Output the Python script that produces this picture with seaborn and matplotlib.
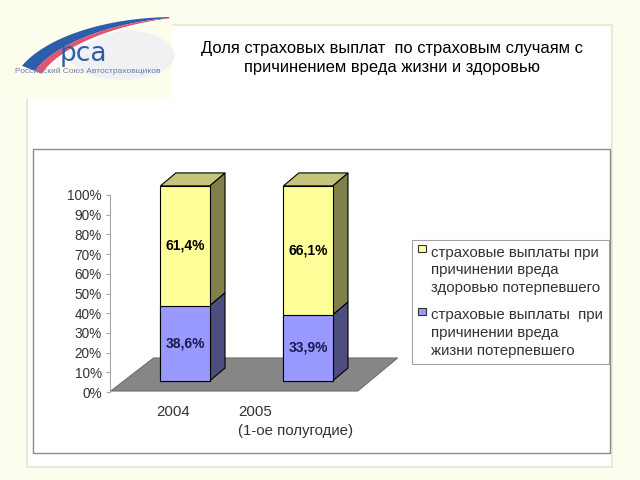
import numpy as np
import pandas as pd
import matplotlib
matplotlib.use("Agg")
import matplotlib.pyplot as plt
from matplotlib.patches import Polygon, Rectangle, Patch, Ellipse
from matplotlib.transforms import ScaledTranslation
from matplotlib.legend_handler import HandlerPatch
import seaborn as sns

# ---------------- data ----------------
categories = ["2004", "2005\n(1-ое полугодие)"]
health_share = [61.4, 66.1]   # yellow: вред здоровью
life_share = [38.6, 33.9]     # blue: вред жизни
y_ticks = [0, 10, 20, 30, 40, 50, 60, 70, 80, 90, 100]
y_tick_labels = [f"{t}%" for t in y_ticks]
legend_labels = [
    "страховые выплаты при\nпричинении вреда\nздоровью потерпевшего",
    "страховые выплаты  при\nпричинении вреда\nжизни потерпевшего",
]
title_text = "Доля страховых выплат  по страховым случаям с\nпричинением вреда жизни и здоровью"

# ---------------- style ----------------
sns.set_theme(style="white")
plt.rcParams["font.family"] = ["Liberation Sans", "DejaVu Sans"]

W, H = 640, 480
fig = plt.figure(figsize=(6.4, 4.8), dpi=100)
fig.patch.set_facecolor("#FEFEF0")

def fbox(x0, y0, x1, y1):
    """pixel box (top-left origin) -> figure rect"""
    return [x0 / W, 1 - y1 / H, (x1 - x0) / W, (y1 - y0) / H]

# background decoration axes in pixel coordinates
bg = fig.add_axes([0, 0, 1, 1], zorder=0)
bg.set_xlim(0, W)
bg.set_ylim(H, 0)
bg.axis("off")
# slide panel
bg.add_patch(Rectangle((27, 25), 585, 442, facecolor="white", edgecolor="#E6E6D2", lw=1.2))
# chart area box
bg.add_patch(Rectangle((33, 149), 577, 304, facecolor="white", edgecolor="#8C8C8C", lw=1.0))
# logo glow
bg.add_patch(Rectangle((0, 0), 172, 98, facecolor="#FDFDEE", edgecolor="none"))
bg.add_patch(Ellipse((122, 55), 105, 50, facecolor="#EFF1F3", edgecolor="none"))

# logo arcs (tapering bands)
cx, cy, rx, ry = 175, 95, 167, 80
th_deg = np.linspace(92, 158, 120)
th = np.radians(th_deg)
f = (th_deg - th_deg.min()) / (th_deg.max() - th_deg.min())

def band(d0, d1, color):
    xo = cx + (rx - d0) * np.cos(th)
    yo = cy - (ry - d0) * np.sin(th)
    xi = cx + (rx - d1) * np.cos(th)
    yi = cy - (ry - d1) * np.sin(th)
    bg.fill(np.r_[xo, xi[::-1]], np.r_[yo, yi[::-1]], color=color, lw=0)

d_a = 2 + 0 * f
d_b = d_a + 1 + 13 * f
d_c = d_b + 0.5 + 7 * f
d_d = d_c + 0.5 + 5 * f
band(d_a, d_b, "#2E5DAA")
band(d_b, d_c, "#E6536E")
band(d_c, d_d, "white")
bg.text(60, 61, "рса", color="#2E5DAA", fontsize=19, ha="left", va="baseline",
        family=["DejaVu Sans"])
bg.text(15, 71.5, "Российский Союз Автостраховщиков", color="#6A7EA8", fontsize=6,
        ha="left", va="center")

# title
bg.text(392, 58, title_text, ha="center", va="center", fontsize=11.9, color="black",
        linespacing=1.35)

# ---------------- bars ----------------
ax = fig.add_axes(fbox(100, 160, 420, 400), zorder=2)
ax.patch.set_alpha(0)
df = pd.DataFrame({"category": categories, "health": health_share, "life": life_share})
df["total"] = df["health"] + df["life"]

yellow, yellow_side, yellow_top = "#FFFF99", "#80804C", "#C4C47A"
blue, blue_side = "#9999FF", "#4D4D80"

sns.barplot(data=df, x="category", y="total", color=yellow, width=0.4, saturation=1,
            edgecolor="black", linewidth=0.8, ax=ax, zorder=3)
sns.barplot(data=df, x="category", y="life", color=blue, width=0.4, saturation=1,
            edgecolor="black", linewidth=0.8, ax=ax, zorder=3)

n = len(categories)
bars_total = list(ax.patches[:n])

ax.set_xlim(-0.691, 1.911)
ax.set_ylim(-9.74, 113.3)
dx, dy = 0.1255, 6.67

# floor
floor = Polygon([(-0.603, -5.13), (1.405, -5.13), (1.729, 11.8), (-0.255, 11.8)],
                closed=True, facecolor="#868686", edgecolor="#6E6E6E", lw=0.8, zorder=1)
ax.add_patch(floor)

for i in range(n):
    p = bars_total[i]
    x0 = p.get_x()
    x1 = x0 + p.get_width()
    life = df["life"][i]
    health = df["health"][i]
    total = df["total"][i]
    # side faces
    ax.add_patch(Polygon([(x1, 0), (x1 + dx, dy), (x1 + dx, life + dy), (x1, life)],
                         facecolor=blue_side, edgecolor="black", lw=0.8, zorder=2.5))
    ax.add_patch(Polygon([(x1, life), (x1 + dx, life + dy), (x1 + dx, total + dy), (x1, total)],
                         facecolor=yellow_side, edgecolor="black", lw=0.8, zorder=2.5))
    # top face
    ax.add_patch(Polygon([(x0, total), (x0 + dx, total + dy), (x1 + dx, total + dy), (x1, total)],
                         facecolor=yellow_top, edgecolor="black", lw=0.8, zorder=2.5))
    xc = (x0 + x1) / 2
    ax.text(xc, life / 2, f"{life:.1f}".replace(".", ",") + "%", ha="center", va="center",
            fontsize=10, fontweight="bold", color="#1A1A50", zorder=5)
    ax.text(xc, life + health / 2, f"{health:.1f}".replace(".", ",") + "%",
            ha="center", va="center", fontsize=10, fontweight="bold", color="black", zorder=5)

for s in ax.spines.values():
    s.set_visible(False)
ax.set_yticks([])
ax.set_xlabel("")
ax.set_ylabel("")
ax.tick_params(axis="x", length=0, pad=3.6, labelsize=10.8, labelcolor="#333333")
offset = ScaledTranslation(-12 / 100, 0, fig.dpi_scale_trans)
for lab in ax.get_xticklabels():
    lab.set_multialignment("left")
    lab.set_verticalalignment("top")
    lab.set_linespacing(1.5)
    lab.set_transform(lab.get_transform() + offset)

# ---------------- value axis ----------------
ax2 = fig.add_axes(fbox(110, 195, 111, 392), zorder=1.5)
ax2.patch.set_alpha(0)
ax2.set_ylim(0, 100)
ax2.set_xlim(0, 1)
for k, s in ax2.spines.items():
    s.set_visible(k == "left")
ax2.spines["left"].set_color("#A6A6A6")
ax2.spines["left"].set_linewidth(0.8)
ax2.set_xticks([])
ax2.set_yticks(y_ticks)
ax2.set_yticklabels(y_tick_labels)
ax2.tick_params(axis="y", direction="out", length=3, width=0.8, color="#A6A6A6",
                labelsize=9.8, labelcolor="#333333", pad=3, left=True)

# ---------------- legend ----------------
class TopSquare(HandlerPatch):
    def __init__(self, shift, **kw):
        super().__init__(**kw)
        self.shift = shift

    def create_artists(self, legend, orig_handle, xdescent, ydescent, width, height,
                       fontsize, trans):
        s = 0.5 * fontsize
        yc = -ydescent + height / 2 + self.shift * fontsize
        r = Rectangle((-xdescent, yc - s / 2), s, s, facecolor=orig_handle.get_facecolor(),
                      edgecolor="#333333", lw=0.8, transform=trans)
        return [r]

handles = [Patch(facecolor=yellow), Patch(facecolor=blue)]
hmap = {h: TopSquare(1.47) for h in handles}
leg = fig.legend(handles, legend_labels, loc="upper left", handler_map=hmap,
                 bbox_to_anchor=(412 / W, 1 - 239.5 / H), frameon=True, fancybox=False,
                 fontsize=10.8, handlelength=0.6, handleheight=0.7, handletextpad=0.25,
                 labelspacing=0.9, borderpad=0.4, borderaxespad=0)
leg.get_frame().set_edgecolor("#8C8C8C")
leg.get_frame().set_linewidth(0.8)
for t in leg.get_texts():
    t.set_color("#333333")
    t.set_linespacing(1.34)

fig.savefig("out.png", dpi=100, facecolor=fig.get_facecolor())
